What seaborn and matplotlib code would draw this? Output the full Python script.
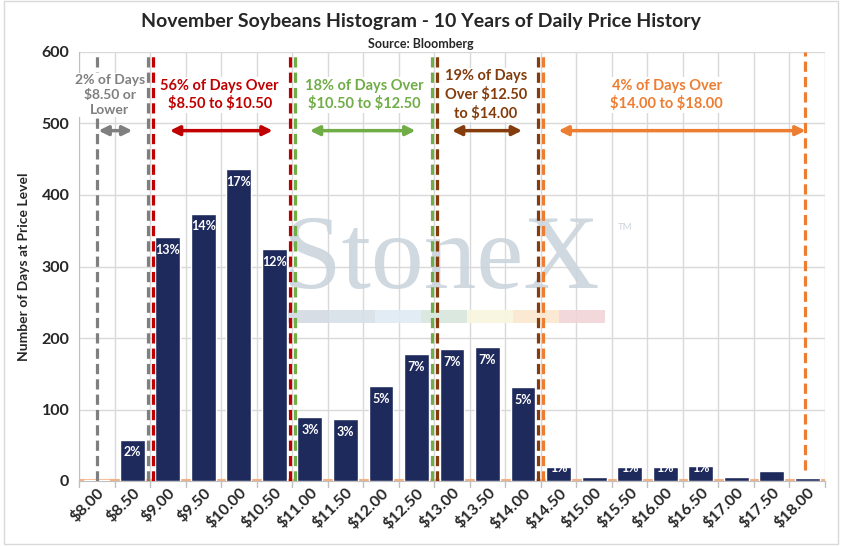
import matplotlib
matplotlib.use('Agg')
import matplotlib.pyplot as plt
import seaborn as sns
from matplotlib.patches import Rectangle

# Data

prices = ['$8.00', '$8.50', '$9.00', '$9.50', '$10.00', '$10.50', '$11.00',
          '$11.50', '$12.00', '$12.50', '$13.00', '$13.50', '$14.00', '$14.50',
          '$15.00', '$15.50', '$16.00', '$16.50', '$17.00', '$17.50', '$18.00']
days = [1, 58, 341, 374, 436, 324, 90, 87, 133, 178, 185, 187, 131, 20,
        5, 19, 20, 21, 5, 14, 4]
pct_labels = ['', '2%', '13%', '14%', '17%', '12%', '3%', '3%', '5%', '7%',
              '7%', '7%', '5%', '1%', '', '1%', '1%', '1%', '', '1%', '']

# zone boundaries (category index) and notes
zone_texts = ['2% of Days\n$8.50 or\nLower',
              '56% of Days Over\n$8.50 to $10.50',
              '18% of Days Over\n$10.50 to $12.50',
              '19% of Days\nOver $12.50\nto $14.00',
              '4% of Days Over\n$14.00 to $18.00']
zone_colors = ['#7f7f7f', '#c00000', '#70ad47', '#843c0c', '#ed7d31']
zone_left = [0.0, 1.57, 5.57, 9.57, 12.56]
zone_right = [1.44, 5.43, 9.43, 12.42, 19.95]
arrow_from = [0.05, 2.06, 6.0, 10.0, 13.0]
arrow_to = [1.0, 4.95, 8.97, 11.97, 19.95]
text_x = [0.37, 3.46, 7.53, 10.96, 16.04]

band_colors = ['#d3dae2', '#d6dfe8', '#deeaf3', '#d6e6dc', '#f8f6de', '#fbe7d0', '#f1d3d7']

navy = '#1f2a5c'

sns.set_style('white')
plt.rcParams['font.family'] = ['Lato', 'DejaVu Sans']

fig = plt.figure(figsize=(8.42, 5.46), dpi=100)
ax = fig.add_axes([79/842, 65/546, 746/842, 429/546])

sns.barplot(x=prices, y=days, color=navy, width=0.7, saturation=1, ax=ax, zorder=3)

ax.set_xlim(-0.5, len(prices) - 0.5)
ax.set_ylim(0, 600)
ax.set_yticks(range(0, 601, 100))
ax.set_xticks(range(len(prices)))
ax.set_xticklabels(prices, rotation=45, ha='right', rotation_mode='anchor',
                   fontsize=11.5, fontweight='bold')
for lab in ax.get_yticklabels():
    lab.set_fontsize(11.5)
    lab.set_fontweight('bold')

# gridlines on category boundaries
for b in range(len(prices) + 1):
    ax.axvline(b - 0.5, color='#d9d9d9', lw=1, zorder=0.5)
for yv in range(100, 601, 100):
    ax.axhline(yv, color='#d9d9d9', lw=1, zorder=0.5)
ax.axhline(1, color='#f4b183', lw=1.5, zorder=1)

for s in ['top', 'right']:
    ax.spines[s].set_visible(False)
for s in ['left', 'bottom']:
    ax.spines[s].set_color('#bfbfbf')
ax.tick_params(axis='x', length=0, pad=3)
ax.tick_params(axis='y', length=4, color='#bfbfbf', pad=3)
for b in range(len(prices) + 1):
    ax.plot([b - 0.5, b - 0.5], [0, -8], color='#bfbfbf', lw=1, clip_on=False)

# percentage labels
for i, (v, t) in enumerate(zip(days, pct_labels)):
    if t:
        ax.text(i, max(v - 18, 18), t, ha='center', va='center', color='white',
                fontsize=9, fontweight='bold', zorder=4)

# zone lines, arrows and notes
dash = (0, (3.2, 1.6))
for i, c in enumerate(zone_colors):
    top_l = 595 if i == 0 else 600
    bot_r = 15 if i == 4 else 0
    ax.plot([zone_left[i]] * 2, [0, top_l], color=c, lw=2.3, ls=dash, zorder=5)
    ax.plot([zone_right[i]] * 2, [bot_r, 600], color=c, lw=2.3, ls=dash, zorder=5)
    ax.annotate('', xy=(arrow_to[i], 490), xytext=(arrow_from[i], 490),
                arrowprops=dict(arrowstyle='<|-|>', color=c, lw=2.5,
                                mutation_scale=14, shrinkA=0, shrinkB=0),
                zorder=6)
    ax.text(text_x[i], 540, zone_texts[i], parse_math=False,
            ha='center', va='center', color=c,
            fontsize=10 if i == 0 else 10.5, fontweight='bold',
            linespacing=1.3, zorder=6,
            bbox=dict(facecolor='white', edgecolor='none', pad=1))

# StoneX watermark
ax.text(283/842, 1 - 288/546, 'StoneX', transform=fig.transFigure,
        family='Liberation Serif', fontsize=76, color='#cbd4dd', alpha=0.9,
        ha='left', va='baseline', zorder=1.5)
ax.text(618/842, 1 - 230/546, 'TM', transform=fig.transFigure,
        fontsize=7, color='#cbd4dd', zorder=1.5)
band_w = (605 - 283) / len(band_colors)
for k, bc in enumerate(band_colors):
    ax.add_patch(Rectangle(((283 + k * band_w)/842, 1 - 323/546), band_w/842, 13/546,
                           transform=fig.transFigure, facecolor=bc, edgecolor='none',
                           alpha=0.9, zorder=1.5, clip_on=False))

ax.set_ylabel('Number of Days at Price Level', fontsize=10, fontweight='bold', labelpad=8)
fig.text(0.5, 1 - 22/546, 'November Soybeans Histogram - 10 Years of Daily Price History',
         ha='center', va='center', fontsize=14, fontweight='bold')
fig.text(0.5, 1 - 44/546, 'Source: Bloomberg', ha='center', va='center',
         fontsize=9, fontweight='bold')

fig.patches.append(Rectangle((4/842, 2/546), 834/842, 543/546, transform=fig.transFigure,
                             facecolor='none', edgecolor='#d9d9d9', lw=1))

fig.savefig('out.png', dpi=100)
